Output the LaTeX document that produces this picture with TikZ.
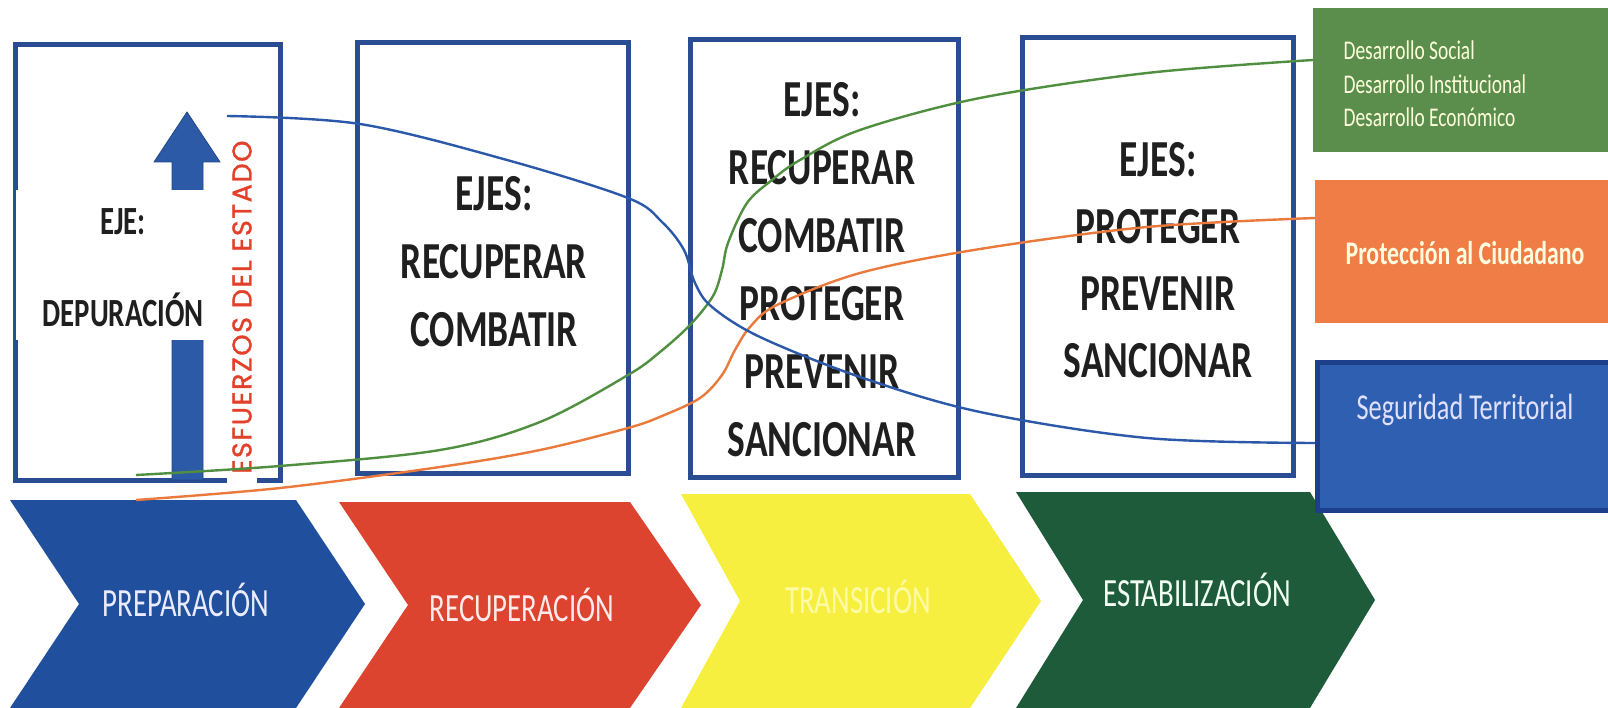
\documentclass[tikz,border=0pt]{standalone}
\usepackage{fontspec}
\setmainfont{Carlito}
\newfontfamily\cf[FakeStretch=0.72]{Carlito}
\newfontfamily\pop[FakeBold=1.3,LetterSpace=6]{Poppins}
\definecolor{boxblue}{HTML}{2A4C93}
\definecolor{arrowblue}{HTML}{2C5AA6}
\definecolor{curveblue}{HTML}{2B58A8}
\definecolor{curvegreen}{HTML}{4F8F3F}
\definecolor{curveorange}{HTML}{EA7A3C}
\definecolor{gboxc}{HTML}{5B8D4D}
\definecolor{oboxc}{HTML}{EF7D45}
\definecolor{bboxc}{HTML}{2F5FB0}
\definecolor{bboxd}{HTML}{1D3E8A}
\definecolor{chblue}{HTML}{1F4F9D}
\definecolor{chred}{HTML}{DD4430}
\definecolor{chyellow}{HTML}{F7EF3F}
\definecolor{chgreen}{HTML}{1D5B3B}
\definecolor{vtext}{HTML}{E2402A}
\begin{document}
\begin{tikzpicture}[x=1pt,y=-1pt,
  ebox/.style={draw=boxblue,line width=5pt,rectangle,inner sep=0pt},
  ejes/.style={font=\cf\bfseries\fontsize{52}{68}\selectfont,align=center,text=black!88},
  eje/.style={font=\cf\bfseries\fontsize{40}{48}\selectfont,text=black!88},
  chevtext/.style={font=\cf\fontsize{40}{48}\selectfont},
  rbox/.style={rectangle,inner sep=0pt,anchor=north west},
  curve/.style={line width=2.4pt,smooth,tension=0.55}]
\useasboundingbox (0,0) rectangle (1608,708);

% chevrons
\fill[chblue] (10,500) -- (296,500) -- (365,604) -- (296,708) -- (10,708) -- (79,604) -- cycle;
\fill[chred] (339,502) -- (630,502) -- (701,605) -- (630,708) -- (339,708) -- (408,605) -- cycle;
\fill[chyellow] (681,494) -- (970,494) -- (1041,601) -- (970,708) -- (681,708) -- (740,601) -- cycle;
\fill[chgreen] (1016,492) -- (1310,492) -- (1375,600) -- (1310,708) -- (1016,708) -- (1083,600) -- cycle;
\node[chevtext,text=blue!8] (c1) at (186,600) {PREPARACIÓN};
\node[chevtext,text=red!8] (c2) at (522,605) {RECUPERACIÓN};
\node[chevtext,text=yellow!35] (c3) at (858,597) {TRANSICIÓN};
\node[chevtext,text=green!5] (c4) at (1197,590) {ESTABILIZACIÓN};

% right boxes
\node[rbox,fill=gboxc,minimum width=295pt,minimum height=144pt] (gbox) at (1313,8) {};
\node[anchor=west,align=left,font=\cf\fontsize{27}{33.5}\selectfont,text=green!8!yellow!15] (gtext) at (1340,84)
  {Desarrollo Social\\Desarrollo Institucional\\Desarrollo Económico};
\node[rbox,fill=oboxc,minimum width=293pt,minimum height=143pt] (obox) at (1315,180) {};
\node[font=\cf\bfseries\fontsize{33}{40}\selectfont,text=yellow!12] (otext) at (1465,253) {Protección al Ciudadano};
\node[rbox,fill=bboxc,draw=bboxd,line width=5pt,minimum width=300pt,minimum height=148pt] (bbox) at (1315,360) {};
\node[font=\cf\fontsize{36.5}{44}\selectfont,text=blue!12] (btext) at (1465,410) {Seguridad Territorial};

% main boxes
\node[ebox,minimum width=265pt,minimum height=435pt] (b1) at (147.5,262.5) {};
\node[ebox,minimum width=271pt,minimum height=430pt] (b2) at (492.5,258) {};
\node[ebox,minimum width=268pt,minimum height=437pt] (b3) at (824,258.5) {};
\node[ebox,minimum width=271pt,minimum height=437pt] (b4) at (1157.5,256.5) {};

% arrow in box 1
\fill[arrowblue,draw=arrowblue!80!black,line width=0.8pt] (172,480) -- (172,162) -- (154,162) -- (187,112) -- (220,162) -- (203,162) -- (203,480) -- cycle;
\fill[white] (16,190) rectangle (212,340);
\node[eje] (t1a) at (123,222) {EJE:};
\node[eje] (t1b) at (123,310) {DEPURACIÓN};
\fill[white] (227,470) rectangle (257,486);
\node[rotate=90,font=\pop\fontsize{27}{30}\selectfont,text=vtext,inner sep=0pt] (vt) at (242,307) {ESFUERZOS DEL ESTADO};

% texts
\node[ejes] (t2) at (494,262) {EJES:\\RECUPERAR\\COMBATIR};
\node[ejes] (t3) at (822,270) {EJES:\\RECUPERAR\\COMBATIR\\PROTEGER\\PREVENIR\\SANCIONAR};
\node[ejes,font=\cf\bfseries\fontsize{52}{67}\selectfont] (t4) at (1158,260) {EJES:\\PROTEGER\\PREVENIR\\SANCIONAR};

% curves
\coordinate (bS) at (227,116);
\coordinate (gS) at (136,475);
\coordinate (oS) at (136,500);
\coordinate (gE) at (1313,60);
\coordinate (oE) at (1315,218);
\coordinate (bE) at (1315,443);
\draw[curve,curvegreen] plot coordinates {(gS) (280,466) (440,450) (540,422) (628,375) (660,352) (690,325) (713,296) (722,270) (728,243) (747,203) (772,180) (800,160) (860,130) (980,98) (1147,73) (gE)};
\draw[curve,curveorange] plot coordinates {(oS) (280,488) (440,467) (540,450) (628,428) (662,416) (700,398) (722,375) (735,350) (750,327) (777,305) (860,273) (980,249) (1147,227) (oE)};
\draw[curve,curveblue] plot coordinates {(bS) (360,124) (507,160) (628,198) (662,222) (684,250) (695,283) (712,307) (760,337) (860,377) (980,412) (1147,438) (bE)};
\end{tikzpicture}
\end{document}
